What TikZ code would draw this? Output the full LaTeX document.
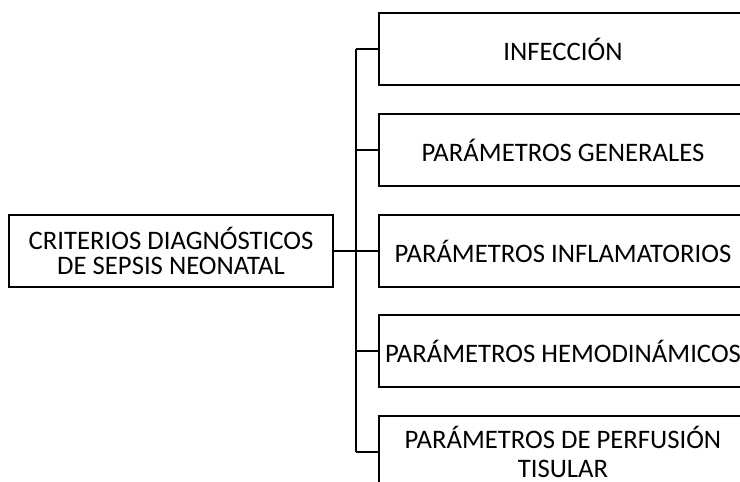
\documentclass[tikz,border=0pt]{standalone}
\usepackage{fontspec}
\setmainfont{Carlito}
\usetikzlibrary{positioning}

\begin{document}
\begin{tikzpicture}[
  x=0.02cm, y=-0.02cm,
  every node/.style={font=\fontsize{15.2}{14.4}\selectfont, align=center},
  crit/.style ={draw, line width=1.1pt, minimum width=6.48cm, minimum height=1.44cm, inner sep=2pt},
  param/.style={draw, line width=1.1pt, minimum width=7.36cm, minimum height=1.44cm, inner sep=2pt},
  link/.style ={line width=1.1pt},
  mainlink/.style={line width=1.7pt},
]

\useasboundingbox (0,0) rectangle (740,482);
\clip (0,0) rectangle (740,482);

%% ── Left: main criterion box ─────────────────────────────
\node[crit] (crit) at (171,251) {CRITERIOS DIAGNÓSTICOS\\DE SEPSIS NEONATAL};

%% ── Right column: parameter boxes ───────────────────────
\node[param] (inf)  at (563,49)  {INFECCIÓN};
\node[param] (gen)  at (563,150) {PARÁMETROS GENERALES};
\node[param] (infl) at (563,251) {PARÁMETROS INFLAMATORIOS};
\node[param] (hemo) at (563,351) {PARÁMETROS HEMODINÁMICOS};
\node[param, font=\fontsize{15.2}{16}\selectfont] (perf) at (563,452) {PARÁMETROS DE PERFUSIÓN\\TISULAR};

%% ── Bus line and branches ──────────────────────────────
\coordinate (bustop) at (356,49);
\coordinate (busbot) at (356,452);

\draw[link] (bustop) -- (busbot);
\draw[mainlink] (crit.east) -- (crit.east -| bustop);
\foreach \n in {inf,gen,infl,hemo,perf}
  \draw[link] (\n.west) -- (\n.west -| bustop);

\end{tikzpicture}
\end{document}
